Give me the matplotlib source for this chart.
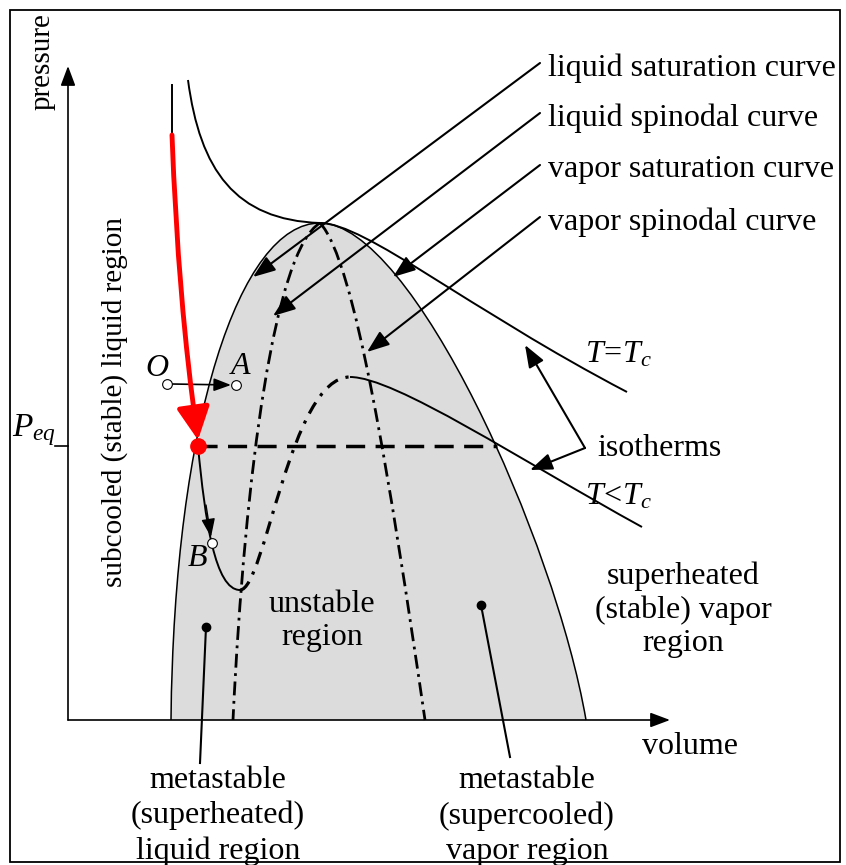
import matplotlib
matplotlib.use("Agg")
import matplotlib.pyplot as plt
from matplotlib.path import Path
from matplotlib.patches import PathPatch, FancyArrowPatch, Rectangle

plt.rcParams['font.family'] = ['Liberation Serif', 'DejaVu Serif']
plt.rcParams['mathtext.fontset'] = 'custom'
plt.rcParams['mathtext.rm'] = 'Liberation Serif'
plt.rcParams['mathtext.it'] = 'Liberation Serif:italic'

# schematic P-V diagram, (volume, pressure) given in picture units
# cubic bezier control points for each curve
liq_sat = [(171, 720), (174, 420), (240, 223), (320, 223)]
vap_sat = [(320, 223), (412, 223), (555, 540), (586, 720)]
liq_spin = [(320, 223), (275, 250), (245, 470), (233, 720)]
vap_spin = [(320, 223), (355, 260), (390, 480), (425, 720)]
tc_left = [(188, 80), (200, 170), (235, 220), (320, 223)]
tc_right = [(320, 223), (365, 223), (470, 310), (627, 392)]
# isotherm T < Tc
t_top = [(172, 85), (172, 135)]
t_red = [(172, 135), (178, 300), (198, 440)]
t_liq = [(198, 446), (205, 520), (215, 590), (240, 590)]
t_unstable = [(240, 590), (265, 590), (290, 377), (350, 377)]
t_vap = [(350, 377), (395, 377), (520, 460), (642, 527)]

p_eq = 446
p_eq_from, p_eq_to = 198, 497

state_pts = {"O": (167, 384), "A": (236, 385), "B": (212, 543)}

curve_labels = ["liquid saturation curve", "liquid spinodal curve",
                "vapor saturation curve", "vapor spinodal curve"]
label_y = [68, 118, 170, 222]
label_tips = [(253, 277), (273, 316), (393, 277), (367, 352)]

region_dots = [(206, 627), (481, 605)]
region_ends = [(200, 763), (510, 757)]

FS = 23      # horizontal text
FS_V = 21    # rotated text


def bez(pts):
    codes = [Path.MOVETO] + [Path.CURVE4] * (len(pts) - 1)
    return Path(pts, codes)


fig = plt.figure(figsize=(8.46, 8.65), dpi=100)
ax = fig.add_axes([0, 0, 1, 1])
ax.set_xlim(0, 846)
ax.set_ylim(865, 0)
ax.axis('off')

# outer frame
ax.add_patch(Rectangle((10, 10), 830, 852, fill=False, lw=1.3, ec='black'))

# gray two-phase dome
dome = Path(liq_sat + vap_sat[1:] + [liq_sat[0]],
            [Path.MOVETO] + [Path.CURVE4] * 6 + [Path.CLOSEPOLY])
ax.add_patch(PathPatch(dome, fc='#dcdcdc', ec='none', zorder=1))
ax.add_patch(PathPatch(bez(liq_sat), fc='none', ec='black', lw=1.1, zorder=2))
ax.add_patch(PathPatch(bez(vap_sat), fc='none', ec='black', lw=1.1, zorder=2))

# spinodals
for sp in (liq_spin, vap_spin):
    ax.add_patch(PathPatch(bez(sp), fc='none', ec='black', lw=2.0,
                           ls=(0, (5, 2, 1, 2)), zorder=3))

# critical isotherm
for seg in (tc_left, tc_right):
    ax.add_patch(PathPatch(bez(seg), fc='none', ec='black', lw=1.4, zorder=3))

# sub-critical isotherm
ax.plot([p[0] for p in t_top], [p[1] for p in t_top], color='black', lw=1.4, zorder=3)
for seg in (t_liq, t_vap):
    ax.add_patch(PathPatch(bez(seg), fc='none', ec='black', lw=1.4, zorder=3))
ax.add_patch(PathPatch(bez(t_unstable), fc='none', ec='black', lw=2.3,
                       ls=(0, (4, 2.5, 1, 2.5)), zorder=3))
ax.plot([p_eq_from, p_eq_to], [p_eq, p_eq], color='black', lw=2.5,
        ls=(0, (5.5, 3)), zorder=3)

# red path down to saturation
red = Path(t_red, [Path.MOVETO, Path.CURVE3, Path.CURVE3])
ax.add_patch(FancyArrowPatch(path=red, arrowstyle='-|>,head_length=1.0,head_width=0.5',
                             mutation_scale=20, color='red', lw=3.5, zorder=5))
ax.plot([p_eq_from], [p_eq], 'o', color='red', ms=11, zorder=6)

# axes arrows
ax_style = '-|>,head_length=0.8,head_width=0.3'
ax.add_patch(FancyArrowPatch((68, 720), (68, 66), arrowstyle=ax_style,
                             mutation_scale=15, color='black', lw=1.2, shrinkA=0, shrinkB=0))
ax.add_patch(FancyArrowPatch((68, 720), (670, 720), arrowstyle=ax_style,
                             mutation_scale=15, color='black', lw=1.2, shrinkA=0, shrinkB=0))
ax.plot([55, 68], [p_eq, p_eq], color='black', lw=1.2)

# small arrows O->A and to B
ax.add_patch(FancyArrowPatch((172, 384), (231, 385), arrowstyle=ax_style,
                             mutation_scale=13, color='black', lw=1.2, shrinkA=0, shrinkB=0, zorder=4))
ax.add_patch(FancyArrowPatch((206, 505), (211, 537), arrowstyle=ax_style,
                             mutation_scale=14, color='black', lw=1.0, shrinkA=0, shrinkB=0, zorder=4))
for name, (x, y) in state_pts.items():
    ax.plot([x], [y], 'o', mfc='white', mec='black', mew=0.8, ms=7, zorder=7)
ax.text(157, 368, '$O$', fontsize=FS, ha='center', va='center')
ax.text(241, 366, '$A$', fontsize=FS, ha='center', va='center')
ax.text(197, 558, '$B$', fontsize=FS, ha='center', va='center')

# leader arrows to curve labels
for txt, y, tip in zip(curve_labels, label_y, label_tips):
    ax.add_patch(FancyArrowPatch((540, y - 5), tip, arrowstyle=ax_style,
                                 mutation_scale=17, color='black', lw=1.5,
                                 shrinkA=0, shrinkB=0, zorder=4))
    ax.text(548, y, txt, fontsize=FS, ha='left', va='center')

# isotherm labels
ax.add_patch(FancyArrowPatch((585, 448), (525, 345), arrowstyle=ax_style,
                             mutation_scale=17, color='black', lw=1.5, shrinkA=0, shrinkB=0, zorder=4))
ax.add_patch(FancyArrowPatch((585, 448), (530, 470), arrowstyle=ax_style,
                             mutation_scale=17, color='black', lw=1.5, shrinkA=0, shrinkB=0, zorder=4))
ax.text(597, 448, 'isotherms', fontsize=FS, ha='left', va='center')
ax.text(585, 355, r'$T\!=\!T_c$', fontsize=FS, ha='left', va='center')
ax.text(585, 497, r'$T\!<\!T_c$', fontsize=FS, ha='left', va='center')

# region dots
for (x0, y0), (x1, y1) in zip(region_dots, region_ends):
    ax.plot([x0, x1], [y0, y1], color='black', lw=1.5, zorder=4)
    ax.plot([x0], [y0], 'o', color='black', ms=6, zorder=4)

# axis + region text
ax.text(43, 62, 'pressure', fontsize=FS_V, rotation=90, ha='center', va='center')
ax.text(690, 746, 'volume', fontsize=FS, ha='center', va='center')
ax.text(34, 430, r'$P_{eq}$', fontsize=FS + 1, ha='center', va='center')
ax.text(115, 402, 'subcooled (stable) liquid region', fontsize=FS_V, rotation=90,
        ha='center', va='center')
ax.text(322, 621, 'unstable\nregion', fontsize=FS, ha='center', va='center', linespacing=1.16)
ax.text(683, 610, 'superheated\n(stable) vapor\nregion', fontsize=FS, ha='center',
        va='center', linespacing=1.18)
ax.text(218, 816, 'metastable\n(superheated)\nliquid region', fontsize=FS, ha='center',
        va='center', linespacing=1.26)
ax.text(527, 816, 'metastable\n(supercooled)\nvapor region', fontsize=FS, ha='center',
        va='center', linespacing=1.26)

fig.savefig('out.png', dpi=100)
